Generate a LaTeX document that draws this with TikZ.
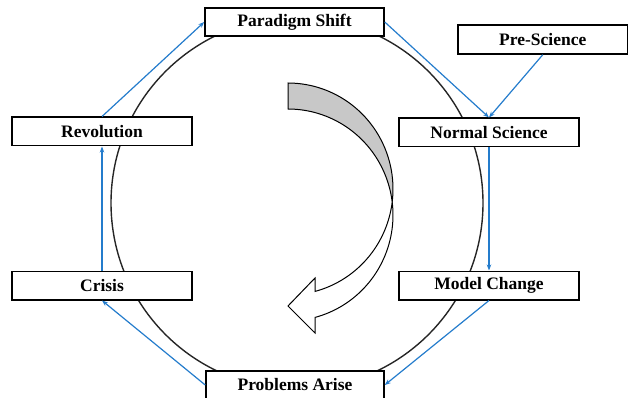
\documentclass[tikz,border=0pt]{standalone}
\usepackage{fontspec}
\setmainfont{Liberation Serif}
\usetikzlibrary{arrows.meta}
\definecolor{conblue}{RGB}{36,124,204}
\definecolor{arrgray}{RGB}{200,200,200}
\begin{document}
\begin{tikzpicture}[x=1pt,y=-1pt,
  stagebox/.style={draw=black,line width=1.5pt,fill=white,inner sep=0pt,
    minimum width=180pt,minimum height=28.5pt,
    font=\fontsize{17.5}{20}\selectfont\bfseries},
  conn/.style={draw=conblue,line width=1.2pt,-{Stealth[length=6pt,width=4.5pt]}}]
\useasboundingbox (0,0) rectangle (629,398);
% big cycle circle
\draw[line width=1.4pt,black!85] (297,203) circle (186pt);
% curved arrow (back part)
\draw[line width=1pt,fill=arrgray]
  plot[domain=-90:7.04,samples=40] ({288+105*cos(\x)},{189+106*sin(\x)})
  -- plot[domain=-7.04:-90,samples=40] ({288+105*cos(\x)},{215+106*sin(\x)})
  -- cycle;
% curved arrow (front part)
\draw[line width=1pt,fill=white,line join=miter]
  plot[domain=7.04:75.1,samples=40] ({288+105*cos(\x)},{189+106*sin(\x)})
  -- (315,278) -- (288,306) -- (315,333) --
  plot[domain=75.1:-7.04,samples=40] ({288+105*cos(\x)},{215+106*sin(\x)})
  -- cycle;
% stages
\node[stagebox,minimum width=179pt,minimum height=28pt] (par) at (294.5,22) {Paradigm Shift};
\node[stagebox,minimum width=169.5pt,minimum height=29pt] (pre) at (542.75,39.5) {Pre-Science};
\node[stagebox] (ns) at (489,132.5) {Normal Science};
\node[stagebox] (rev) at (102,131.5) {Revolution};
\node[stagebox] (cr) at (102,285.5) {Crisis};
\node[stagebox] (mc) at (489,285.5) {Model Change};
\node[stagebox,minimum width=178pt,minimum height=28pt] (pa) at (295,385) {Problems Arise};
% connectors
\draw[conn] (rev.north) -- (par.west);
\draw[conn] (par.east) -- (ns.north);
\draw[conn] (pre.south) -- (ns.north);
\draw[conn] (ns.south) -- (mc.north);
\draw[conn] (mc.south) -- (pa.east);
\draw[conn] (pa.west) -- (cr.south);
\draw[conn] (cr.north) -- (rev.south);
\end{tikzpicture}
\end{document}
